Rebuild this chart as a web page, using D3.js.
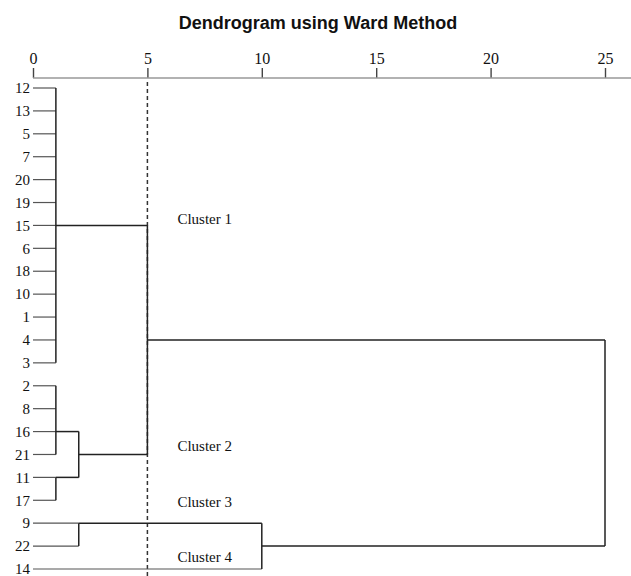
<!DOCTYPE html>
<html>
<head>
<meta charset="utf-8">
<script src="https://cdn.jsdelivr.net/npm/d3@7"></script>
<style>
  body { margin: 0; background: #fff; }
  svg { display: block; }
</style>
</head>
<body>
<svg id="chart" width="631" height="576"></svg>
<script>
// leaf order, top to bottom
const leaves = ["12","13","5","7","20","19","15","6","18","10","1","4","3",
                "2","8","16","21","11","17","9","22","14"];

// merges (rescaled distance) and the leaf row each joined cluster is drawn from
const nodeIds  = ["A", "B1", "B2", "B", "AB", "C1", "C", "root"];
const nodeKids = [
  ["12","13","5","7","20","19","15","6","18","10","1","4","3"],
  ["2","8","16","21"],
  ["11","17"],
  ["B1","B2"],
  ["A","B"],
  ["9","22"],
  ["C1","14"],
  ["AB","C"]
];
const nodeDist = [1, 1, 1, 2, 5, 2, 10, 25];
const nodeRow  = ["15", "16", "11", "21", "4", "9", "22", null];

const axisTicks = [0, 5, 10, 15, 20, 25];
const cutLevel = 5;
const clusterLabels = ["Cluster 1", "Cluster 2", "Cluster 3", "Cluster 4"];

const svg = d3.select("#chart");
const serif = "'Liberation Serif', 'Times New Roman', serif";

let x = d3.scaleLinear().domain([0, 25]).range([33, 605]);
let y = d3.scalePoint().domain(leaves).range([88, 569]);
const axisY = 78;

// title
svg.append("text")
    .attr("x", 318)
    .attr("y", 29)
    .attr("text-anchor", "middle")
    .style("font-family", "'Liberation Sans', Arial, sans-serif")
    .style("font-weight", "bold")
    .style("font-size", "18px")
    .attr("fill", "#111")
    .text("Dendrogram using Ward Method");

// top axis
let ax = svg.append("g")
    .attr("transform", "translate(0," + axisY + ")")
    .call(d3.axisTop(x).tickValues(axisTicks).tickSize(10).tickPadding(4).tickFormat(d3.format("d")));
ax.select(".domain").remove();
ax.selectAll(".tick line").attr("stroke", "#444").attr("stroke-width", 1.4);
ax.selectAll(".tick text")
    .style("font-family", serif)
    .style("font-size", "16px")
    .attr("fill", "#111");
svg.append("line")
    .attr("x1", x(0)).attr("x2", 631)
    .attr("y1", axisY).attr("y2", axisY)
    .attr("stroke", "#999").attr("stroke-width", 1.4);

// cut line
svg.append("line")
    .attr("x1", x(cutLevel)).attr("x2", x(cutLevel))
    .attr("y1", axisY + 4).attr("y2", 576)
    .attr("stroke", "#333")
    .attr("stroke-width", 1.5)
    .attr("stroke-dasharray", "4,3");

// node lookup
const nodes = {};
nodeIds.forEach((id, i) => {
  nodes[id] = { id: id, kids: nodeKids[i], dist: nodeDist[i], row: nodeRow[i] };
});
const isLeaf = k => !(k in nodes);
const rowY = k => isLeaf(k) ? y(k) : y(nodes[k].row);
const distOf = k => isLeaf(k) ? 0 : nodes[k].dist;

let tree = svg.append("g").attr("fill", "none");

// horizontal branches
nodeIds.forEach(id => {
  const n = nodes[id];
  n.kids.forEach(k => {
    tree.append("line")
        .attr("x1", x(distOf(k))).attr("x2", x(n.dist))
        .attr("y1", rowY(k)).attr("y2", rowY(k))
        .attr("stroke", isLeaf(k) ? "#555" : "#222")
        .attr("stroke-width", isLeaf(k) ? 1.2 : 1.5);
  });
});

// vertical joins
nodeIds.forEach(id => {
  const n = nodes[id];
  const ys = n.kids.map(rowY);
  tree.append("line")
      .attr("x1", x(n.dist)).attr("x2", x(n.dist))
      .attr("y1", d3.min(ys)).attr("y2", d3.max(ys))
      .attr("stroke", "#222")
      .attr("stroke-width", 1.5);
});

// leaf labels
svg.append("g").selectAll("text")
    .data(leaves)
    .enter()
    .append("text")
      .attr("x", x(0) - 3)
      .attr("y", d => y(d))
      .attr("dy", "0.35em")
      .attr("text-anchor", "end")
      .style("font-family", serif)
      .style("font-size", "15px")
      .attr("fill", "#111")
      .text(d => d);

// cluster annotations
const step = y.step();
const labelY = [y("15") - step * 0.27, y("16") + step * 0.6, y("17") + step * 0.08, y("22") + step * 0.48];
svg.append("g").selectAll("text")
    .data(clusterLabels)
    .enter()
    .append("text")
      .attr("x", x(cutLevel) + 30)
      .attr("y", (d, i) => labelY[i])
      .attr("dy", "0.35em")
      .style("font-family", serif)
      .style("font-size", "15px")
      .attr("fill", "#111")
      .text(d => d);
</script>
</body>
</html>
